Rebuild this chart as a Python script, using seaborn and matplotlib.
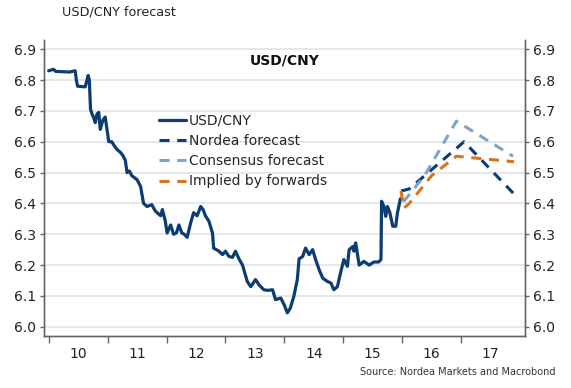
import pandas as pd
import matplotlib
matplotlib.use('Agg')
import matplotlib.pyplot as plt
import seaborn as sns

# USD/CNY spot (fractional year, rate)
hist_t = [2010.00, 2010.08, 2010.12, 2010.25, 2010.35, 2010.45, 2010.47, 2010.49, 2010.62, 2010.65,
          2010.67, 2010.69, 2010.71, 2010.74, 2010.77, 2010.79, 2010.82, 2010.85, 2010.875, 2010.92,
          2010.96, 2011.02, 2011.07, 2011.12, 2011.16, 2011.22, 2011.26, 2011.30, 2011.33, 2011.37,
          2011.41, 2011.50, 2011.56, 2011.61, 2011.67, 2011.75, 2011.81, 2011.84, 2011.90, 2011.93,
          2011.98, 2012.01, 2012.07, 2012.12, 2012.17, 2012.21, 2012.26, 2012.30, 2012.35, 2012.41,
          2012.46, 2012.52, 2012.58, 2012.62, 2012.66, 2012.72, 2012.78, 2012.80, 2012.89, 2012.95,
          2013.00, 2013.06, 2013.12, 2013.17, 2013.23, 2013.29, 2013.37, 2013.43, 2013.51, 2013.57,
          2013.65, 2013.72, 2013.80, 2013.85, 2013.94, 2014.00, 2014.05, 2014.10, 2014.16, 2014.22,
          2014.25, 2014.31, 2014.36, 2014.42, 2014.48, 2014.53, 2014.59, 2014.65, 2014.73, 2014.79,
          2014.84, 2014.90, 2014.96, 2015.01, 2015.07, 2015.10, 2015.16, 2015.18, 2015.21, 2015.27,
          2015.35, 2015.44, 2015.52, 2015.60, 2015.64, 2015.65, 2015.69, 2015.72, 2015.75, 2015.79,
          2015.84, 2015.89, 2015.92, 2015.97]
hist_v = [6.830, 6.835, 6.828, 6.827, 6.826, 6.830, 6.800, 6.780, 6.778, 6.800,
          6.815, 6.800, 6.705, 6.688, 6.675, 6.662, 6.690, 6.695, 6.640, 6.670,
          6.680, 6.600, 6.600, 6.585, 6.575, 6.565, 6.555, 6.540, 6.500, 6.505,
          6.490, 6.477, 6.455, 6.400, 6.390, 6.396, 6.375, 6.370, 6.360, 6.380,
          6.342, 6.304, 6.330, 6.300, 6.305, 6.330, 6.304, 6.300, 6.290, 6.337,
          6.370, 6.360, 6.390, 6.380, 6.360, 6.342, 6.304, 6.255, 6.245, 6.234,
          6.245, 6.228, 6.225, 6.245, 6.220, 6.200, 6.147, 6.130, 6.153, 6.136,
          6.120, 6.118, 6.120, 6.088, 6.093, 6.070, 6.045, 6.060, 6.098, 6.153,
          6.220, 6.228, 6.255, 6.234, 6.250, 6.218, 6.185, 6.158, 6.147, 6.142,
          6.120, 6.130, 6.180, 6.218, 6.196, 6.250, 6.260, 6.245, 6.272, 6.200,
          6.212, 6.200, 6.210, 6.210, 6.218, 6.407, 6.390, 6.358, 6.390, 6.370,
          6.326, 6.326, 6.370, 6.415]

nordea_t = [2015.98, 2016.12, 2017.05, 2017.96]
nordea_v = [6.440, 6.447, 6.600, 6.418]
cons_t = [2016.02, 2016.38, 2016.92, 2017.88]
cons_v = [6.405, 6.490, 6.667, 6.553]
fwd_t = [2015.98, 2016.03, 2016.12, 2016.50, 2016.92, 2017.90]
fwd_v = [6.440, 6.385, 6.400, 6.490, 6.553, 6.535]

years = [2010, 2011, 2012, 2013, 2014, 2015, 2016, 2017]
year_labels = ['10', '11', '12', '13', '14', '15', '16', '17']
yticks = [6.0, 6.1, 6.2, 6.3, 6.4, 6.5, 6.6, 6.7, 6.8, 6.9]

NAVY = '#0b3c72'
LIGHT = '#7fa3c9'
ORANGE = '#d9731c'
DASH = (0, (3.3, 2.5))

sns.set_theme(style='white')
plt.rcParams['font.family'] = ['DejaVu Sans']

fig = plt.figure(figsize=(5.71, 3.88), dpi=100)
ax = fig.add_axes([0.077, 0.134, 0.842, 0.763])

hist = pd.DataFrame({'t': hist_t, 'v': hist_v})
sns.lineplot(data=hist, x='t', y='v', ax=ax, color=NAVY, lw=2.3, label='USD/CNY')
sns.lineplot(x=nordea_t, y=nordea_v, ax=ax, color=NAVY, lw=2.2, linestyle=DASH, label='Nordea forecast')
sns.lineplot(x=cons_t, y=cons_v, ax=ax, color=LIGHT, lw=2.2, linestyle=DASH, label='Consensus forecast')
sns.lineplot(x=fwd_t, y=fwd_v, ax=ax, color=ORANGE, lw=2.2, linestyle=DASH, label='Implied by forwards')

ax.set_xlim(2009.92, 2018.08)
ax.set_ylim(5.97, 6.93)
ax.set_yticks(yticks)
ax.set_yticklabels([f'{y:.1f}' for y in yticks])
ax.set_xticks(years)
ax.set_xticklabels([])
ax.set_xticks([y + 0.5 for y in years], minor=True)
ax.set_xticklabels(year_labels, minor=True)
ax.set_xlabel('')
ax.set_ylabel('')

ax.set_axisbelow(True)
ax.yaxis.grid(True, color='#dde4ec', lw=1.2)
ax.xaxis.grid(False)

ax.tick_params(axis='x', which='major', bottom=True, length=5, width=1, color='#666666')
ax.tick_params(axis='x', which='minor', bottom=True, length=0, pad=8, labelsize=10, labelcolor='#222222')
ax.tick_params(axis='y', left=True, length=3, width=1, color='#666666', labelsize=10,
               labelcolor='#222222', pad=3)

ax2 = ax.twinx()
ax2.set_ylim(ax.get_ylim())
ax2.set_yticks(yticks)
ax2.set_yticklabels([f'{y:.1f}' for y in yticks])
ax2.tick_params(axis='y', right=True, length=3, width=1, color='#666666', labelsize=10,
                labelcolor='#222222', pad=3)
ax2.grid(False)

for a in (ax, ax2):
    a.spines['top'].set_visible(False)
    for s in ('left', 'right', 'bottom'):
        a.spines[s].set_color('#666666')
        a.spines[s].set_linewidth(1)

ax.legend(loc='upper left', bbox_to_anchor=(0.24, 0.751), frameon=False, fontsize=10,
          handlelength=1.95, handletextpad=0.2, labelspacing=0.45, borderpad=0, borderaxespad=0)

ax.text(0.5, 0.932, 'USD/CNY', transform=ax.transAxes, ha='center', va='center',
        fontsize=10, fontweight='bold', color='#111111')
fig.text(62 / 571, 1 - 12 / 388, 'USD/CNY forecast', ha='left', va='center', fontsize=9.2, color='#222222')
fig.text(556 / 571, 1 - 372 / 388, 'Source: Nordea Markets and Macrobond', ha='right', va='center',
         fontsize=7, color='#333333')

fig.savefig('out.png', dpi=100)
